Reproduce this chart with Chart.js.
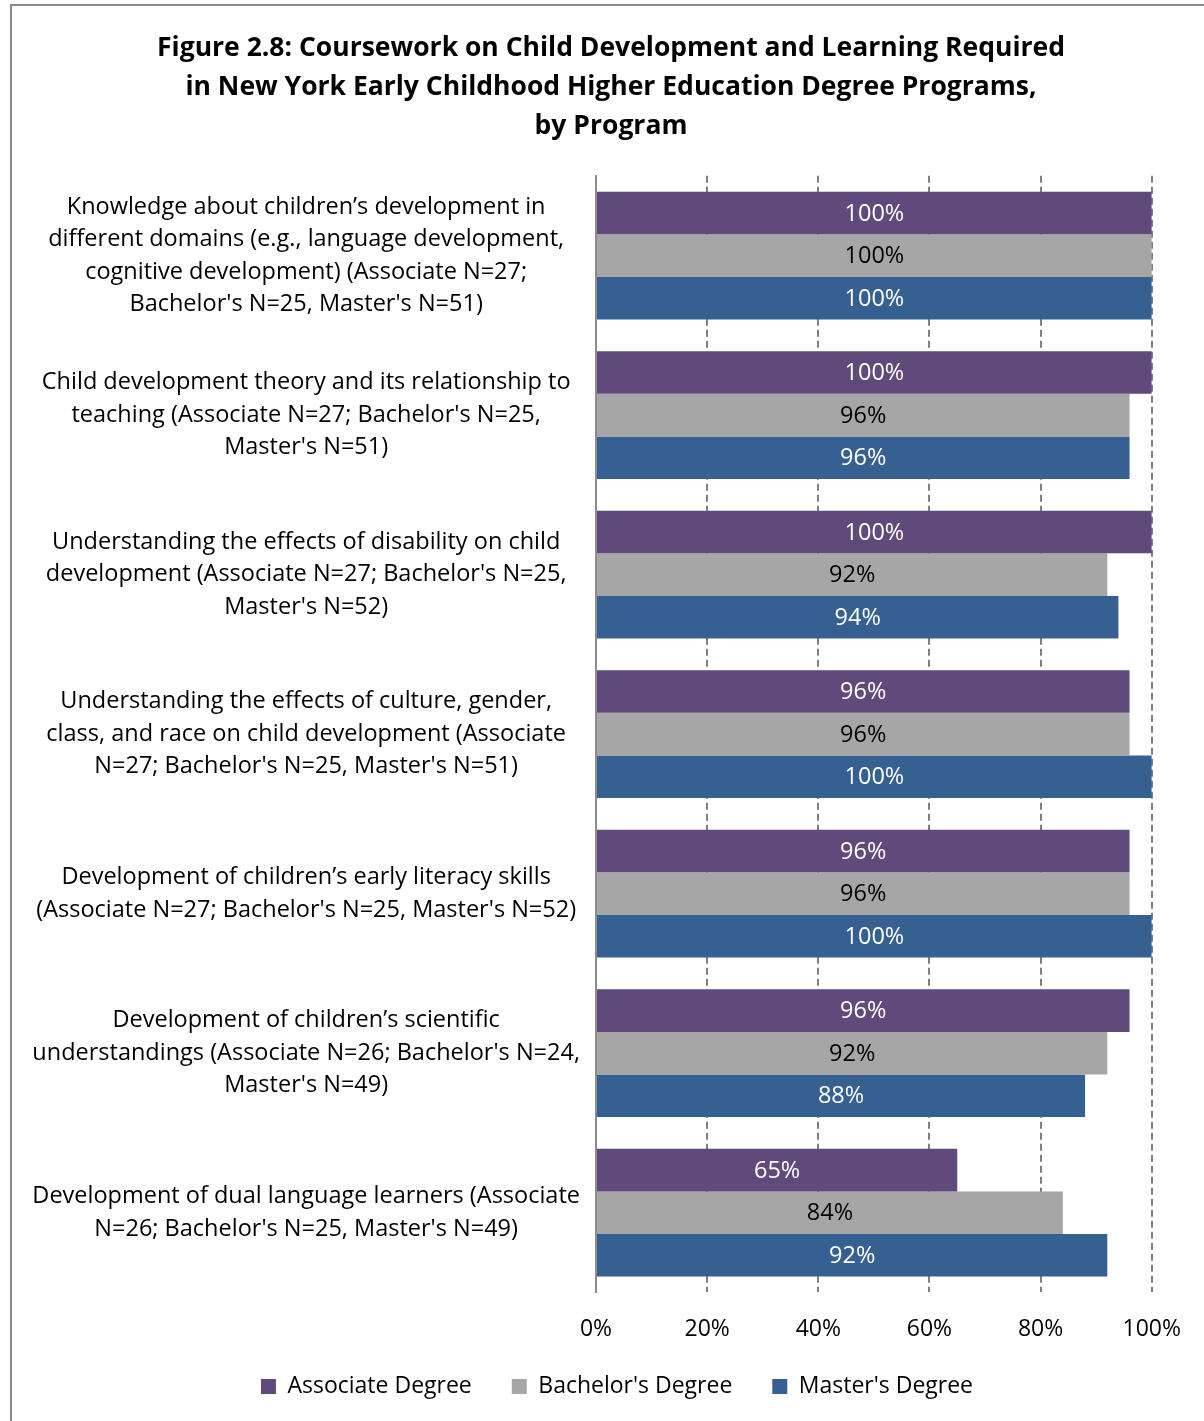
<!DOCTYPE html>
<html>
<head>
<meta charset="utf-8">
<script src="https://cdn.jsdelivr.net/npm/chart.js@4/dist/chart.umd.min.js"></script>
<style>
  html, body { margin: 0; padding: 0; background: #fff; }
  #wrap { width: 1204px; height: 1421px; position: relative; }
</style>
</head>
<body>
<div id="wrap"><canvas id="ctx"></canvas></div>
<script>
// categories (wrapped the way they are printed)
const categories = [
  ["Knowledge about children\u2019s development in", "different domains (e.g., language development,", "cognitive development) (Associate N=27;", "Bachelor's N=25, Master's N=51)"],
  ["Child development theory and its relationship to", "teaching (Associate N=27; Bachelor's N=25,", "Master's N=51)"],
  ["Understanding the effects of disability on child", "development (Associate N=27; Bachelor's N=25,", "Master's N=52)"],
  ["Understanding the effects of culture, gender,", "class, and race on child development (Associate", "N=27; Bachelor's N=25, Master's N=51)"],
  ["Development of children\u2019s early literacy skills", "(Associate N=27; Bachelor's N=25, Master's N=52)"],
  ["Development of children\u2019s scientific", "understandings (Associate N=26; Bachelor's N=24,", "Master's N=49)"],
  ["Development of dual language learners (Associate", "N=26; Bachelor's N=25, Master's N=49)"]
];

// percent of programs requiring the coursework
const associate = [100, 100, 100, 96, 96, 96, 65];
const bachelors = [100, 96, 92, 96, 96, 92, 84];
const masters   = [100, 96, 94, 100, 100, 88, 92];

const seriesNames = ["Associate Degree", "Bachelor's Degree", "Master's Degree"];
const xTicks = [0, 20, 40, 60, 80, 100];

const FONT = "'Open Sans', 'DejaVu Sans', sans-serif";

// writes the value in the middle of every bar
const barLabels = {
  id: "barLabels",
  afterDatasetsDraw(chart) {
    const ctx = chart.ctx;
    ctx.save();
    ctx.font = "23.5px " + FONT;
    ctx.textAlign = "center";
    ctx.textBaseline = "middle";
    chart.data.datasets.forEach((ds, i) => {
      const meta = chart.getDatasetMeta(i);
      ctx.fillStyle = ds.labelColor;
      meta.data.forEach((bar, j) => {
        const x = (bar.base + bar.x) / 2;
        ctx.fillText(ds.data[j] + "%", x, bar.y + 1);
      });
    });
    ctx.restore();
  }
};

// frame lines on the top and left edge
const frame = {
  id: "frame",
  beforeDraw(chart) {
    const ctx = chart.ctx;
    ctx.save();
    ctx.strokeStyle = "#8c8c8c";
    ctx.lineWidth = 2;
    ctx.beginPath();
    ctx.moveTo(11, chart.height);
    ctx.lineTo(11, 5);
    ctx.lineTo(chart.width, 5);
    ctx.stroke();
    ctx.restore();
  }
};

// nudge title and legend so they sit over the middle of the figure
// rather than the middle of the left-padded layout box
const nudge = {
  id: "nudge",
  afterLayout(chart) {
    const shift = (box, dx, dy) => {
      if (!box) return;
      box.left += dx; box.right += dx;
      box.top += dy; box.bottom += dy;
    };
    shift(chart.titleBlock, 34, 0);
    shift(chart.legend, 40, -31);
  }
};

new Chart(document.getElementById("ctx"), {
  type: "bar",
  data: {
    labels: categories,
    datasets: [
      { label: seriesNames[0], data: associate, backgroundColor: "#604a7b", labelColor: "#ffffff" },
      { label: seriesNames[1], data: bachelors, backgroundColor: "#a6a6a6", labelColor: "#000000" },
      { label: seriesNames[2], data: masters, backgroundColor: "#366092", labelColor: "#ffffff" }
    ]
  },
  options: {
    indexAxis: "y",
    responsive: true,
    maintainAspectRatio: false,
    animation: false,
    datasets: {
      bar: { categoryPercentage: 0.8, barPercentage: 1.0, borderWidth: 0 }
    },
    layout: { padding: { top: 29, right: 50, bottom: -18, left: 0 } },
    scales: {
      x: {
        min: 0,
        max: 100,
        afterBuildTicks(scale) {
          scale.ticks = xTicks.map(v => ({ value: v }));
        },
        ticks: {
          callback: v => v + "%",
          color: "#000",
          padding: 23,
          font: { family: FONT, size: 23 }
        },
        grid: {
          color: ctx => (ctx.tick && ctx.tick.value === 0) ? "rgba(0,0,0,0)" : "#7f7f7f",
          lineWidth: 2,
          drawTicks: false
        },
        border: { display: false, dash: [7, 4] }
      },
      y: {
        afterFit(scale) { scale.width = 596; },
        ticks: {
          crossAlign: "center",
          color: "#000",
          padding: 16,
          font: { family: FONT, size: 23.5, lineHeight: 1.38 }
        },
        grid: { display: false, drawTicks: false },
        border: { display: true, color: "#8c8c8c", width: 2 }
      }
    },
    plugins: {
      title: {
        display: true,
        text: [
          "Figure 2.8: Coursework on Child Development and Learning Required",
          "in New York Early Childhood Higher Education Degree Programs,",
          "by Program"
        ],
        color: "#000",
        font: { family: FONT, size: 26.5, weight: "bold", lineHeight: 1.47 },
        padding: { top: 0, bottom: 30 }
      },
      legend: {
        position: "bottom",
        labels: {
          color: "#000",
          boxWidth: 15,
          boxHeight: 15,
          padding: 40,
          font: { family: FONT, size: 23 }
        }
      },
      tooltip: { enabled: false }
    }
  },
  plugins: [barLabels, frame, nudge]
});
</script>
</body>
</html>
